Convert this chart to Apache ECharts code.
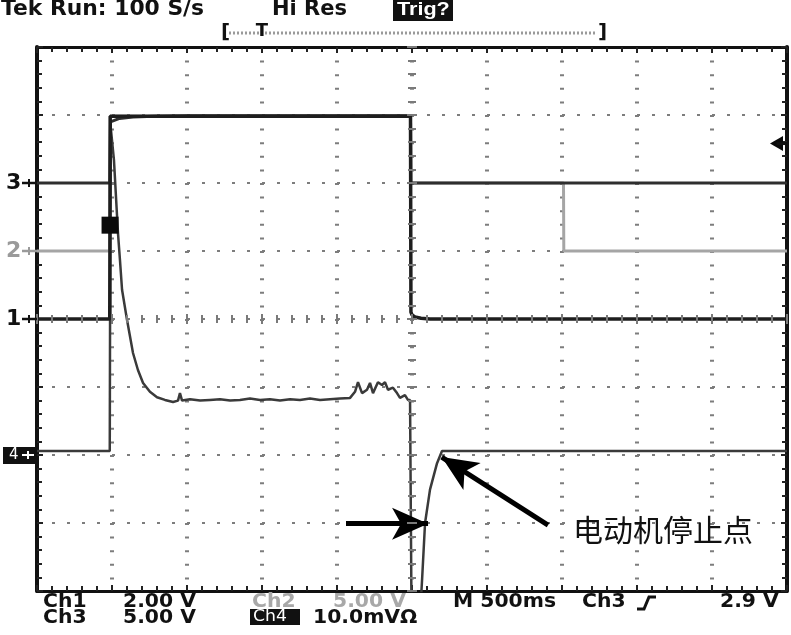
<!DOCTYPE html>
<html><head><meta charset="utf-8">
<script src="https://cdn.jsdelivr.net/npm/echarts@6/dist/echarts.min.js"></script>
<style>html,body{margin:0;padding:0;background:#fff}#c{width:791px;height:635px}</style>
</head><body><div id="c"></div>
<script>
// time in seconds (500 ms/div), vertical in screen divisions
const ch1 = [[0,0],[0.485,0],[0.488,2.98],[2.49,2.98],[2.493,0.1],[2.5,0.06],[2.52,0.03],[2.56,0.01],[2.62,0],[5,0]];
const ch2 = [[0,1],[0.485,1],[0.489,2.98],[2.49,2.98],[2.492,2],[3.51,2],[3.512,1],[5,1]];
const ch3 = [[0,2],[0.486,2],[0.49,2.9],[0.55,2.95],[0.64,2.97],[0.78,2.98],[1.0,2.99],[2.49,2.99],[2.492,2],[5,2]];
const ch4 = [[0,-1.94],[0.485,-1.94],[0.49,2.85],[0.513,2.34],[0.54,1.26],[0.553,0.87],[0.567,0.43],[0.6,-0.01],
  [0.64,-0.5],[0.673,-0.75],[0.707,-0.94],[0.753,-1.07],[0.8,-1.15],[0.853,-1.19],[0.907,-1.22],[0.94,-1.2],
  [0.953,-1.09],[0.967,-1.2],[1.02,-1.18],[1.087,-1.2],[1.153,-1.19],[1.22,-1.18],[1.287,-1.2],[1.353,-1.19],
  [1.42,-1.17],[1.487,-1.19],[1.553,-1.18],[1.62,-1.2],[1.687,-1.18],[1.753,-1.19],[1.82,-1.17],[1.887,-1.19],
  [1.953,-1.18],[2.02,-1.17],[2.087,-1.16],[2.12,-1.07],[2.14,-0.93],[2.167,-1.09],[2.2,-1.04],[2.22,-0.94],
  [2.24,-1.09],[2.273,-0.93],[2.3,-0.97],[2.32,-0.93],[2.34,-1.04],[2.373,-1.01],[2.4,-1.09],[2.42,-1.16],
  [2.453,-1.12],[2.473,-1.19],[2.487,-1.19],[2.497,-4.4],[2.553,-4.4],[2.567,-3.84],[2.587,-3.0],[2.62,-2.51],
  [2.667,-2.12],[2.7,-1.94],[5,-1.94]];
const cursorMark = [[0.487,1.38]];
const trigLevel = [[4.93,2.58]];
const channelLevels = [{name:'3',lvl:2,color:'#111'},{name:'2',lvl:1,color:'#9a9a9a'},{name:'1',lvl:0,color:'#111'}];
const ch4Level = -2;
const arrowFrom = [[2.06,-3.01],[3.407,-3.03]];
const arrowTo = [[2.607,-3.01],[2.698,-2.03]];
const annotation = '电动机停止点';

const chart = echarts.init(document.getElementById('c'), null, {renderer:'canvas'});
const tickC = '#222';
function xa(extra){return Object.assign({type:'value',min:0,max:5,interval:0.5,axisLabel:{show:false},splitLine:{show:false},
  axisLine:{show:true,onZero:false,lineStyle:{color:'#111',width:3}},
  axisTick:{show:true,inside:true,length:6,lineStyle:{color:tickC,width:2}},
  minorTick:{show:true,splitNumber:5,length:5,lineStyle:{color:tickC,width:2}}},extra);}
function ya(extra){return Object.assign({type:'value',min:-4,max:4,interval:1,axisLabel:{show:false},splitLine:{show:false},
  axisLine:{show:true,onZero:false,lineStyle:{color:'#111',width:4}},
  axisTick:{show:true,inside:true,length:6,lineStyle:{color:tickC,width:2}},
  minorTick:{show:true,splitNumber:5,length:5,lineStyle:{color:tickC,width:2}}},extra);}
const center = {z:10,axisLine:{show:false,onZero:false},axisTick:{show:true,inside:true,length:5,lineStyle:{color:'#7a7a7a',width:2}},
  minorTick:{show:true,splitNumber:5,length:4,lineStyle:{color:'#7a7a7a',width:2}}};

function line(data,color,width,z,extra){return Object.assign({type:'line',data:data,showSymbol:false,symbol:'none',
  lineStyle:{color:color,width:width},z:z,clip:true,animation:false},extra||{});}

chart.setOption({
  backgroundColor:'#fff',
  animation:false,
  grid:{left:37,top:47,width:750,height:544},
  xAxis:[
    xa({position:'bottom',splitLine:{show:true,lineStyle:{color:'#7d7d7d',width:4,type:[2,11.6]}}}),
    xa({position:'top'}),
    xa(Object.assign({position:'bottom',offset:-272},center)),
    xa(Object.assign({position:'top',offset:-272},center))
  ],
  yAxis:[
    ya({position:'left',splitLine:{show:true,lineStyle:{color:'#7d7d7d',width:2,type:[3,12]}}}),
    ya({position:'right'}),
    ya(Object.assign({position:'left',offset:-375},center)),
    ya(Object.assign({position:'right',offset:-375},center))
  ],
  series:[
    line(ch2,'#a5a5a5',3,2),
    line(ch4,'#3a3a3a',2.5,3,{markLine:{silent:true,animation:false,label:{show:false},
      lineStyle:{color:'#000',width:5,type:'solid',opacity:1},
      data:arrowFrom.map((f,i)=>[{coord:f,symbol:'none'},{coord:arrowTo[i],symbol:'arrow',symbolSize:[24,36]}])}}),
    line(ch3,'#2e2e2e',3,4),
    line(ch1,'#1e1e1e',3.5,5),
    {type:'scatter',data:cursorMark,symbol:'rect',symbolSize:17,itemStyle:{color:'#0a0a0a',opacity:1},z:6,animation:false},
    {type:'scatter',data:trigLevel,symbol:'triangle',symbolRotate:90,symbolSize:[15,13],itemStyle:{color:'#0a0a0a',opacity:1},z:6,animation:false}
  ]
});

const G = [];
const F = '"DejaVu Sans"';
function t(x,y,s,o){o=o||{};G.push({type:'text',x:x,y:y,scaleX:o.sx||1,z:100,style:{text:s,fontSize:o.fs||19,fontWeight:o.fw||'bold',
  fontFamily:o.ff||F,fill:o.fill||'#111',align:o.align||'left',verticalAlign:'middle'}});}
function r(x,y,w,h,fill){G.push({type:'rect',z:99,shape:{x:x,y:y,width:w,height:h},style:{fill:fill||'#111'}});}
function l(x1,y1,x2,y2,c,w,dash){G.push({type:'line',z:99,shape:{x1:x1,y1:y1,x2:x2,y2:y2},style:{stroke:c,lineWidth:w,lineDash:dash||null}});}

// header
t(1,10,'Tek Run: 100 S/s',{fs:21,sx:1.04});
t(272,10,'Hi Res',{fs:21,sx:1.0});
r(393,0,60,21,'#111');
t(397,10,'Trig?',{fs:18,fill:'#fff',ff:'"Liberation Sans"',sx:1.2});
// trigger position bar
l(229,33,597,33,'#9a9a9a',3,[2,2]);
t(221,33,'[',{fs:20});
t(598,33,']',{fs:20});
t(262,31,'T',{fs:18,align:'center'});

// footer
const sx = 1.07;
t(43,602,'Ch1',{sx:sx}); t(123,602,'2.00 V',{sx:sx});
t(252,602,'Ch2',{sx:sx,fill:'#a8a8a8'}); t(333,602,'5.00 V',{sx:sx,fill:'#a8a8a8'});
t(453,602,'M 500ms',{sx:sx}); t(582,602,'Ch3',{sx:sx});
G.push({type:'polyline',z:99,shape:{points:[[637,609],[644,609],[649,597],[656,597]]},style:{stroke:'#111',lineWidth:3,fill:null}});
t(720,602,'2.9 V',{sx:sx});
t(43,618,'Ch3',{sx:sx}); t(123,618,'5.00 V',{sx:sx});
r(250,609,50,16,'#111'); t(253,617,'Ch4',{fs:15,fw:'normal',fill:'#fff',sx:1.15});
t(313,618,'10.0mVΩ',{sx:sx});

// channel ground markers
channelLevels.forEach(c=>{
  const p = chart.convertToPixel({xAxisIndex:0,yAxisIndex:0},[0,c.lvl]);
  t(6,p[1],c.name,{fs:22,fill:c.color});
  l(22,p[1],37,p[1],c.color,2.5);
  l(29,p[1]-4,29,p[1]+4,c.color,2);
});
const p4 = chart.convertToPixel({xAxisIndex:0,yAxisIndex:0},[0,ch4Level]);
r(3,p4[1]-8,33,17,'#111');
t(9,p4[1],'4',{fs:15,fw:'normal',fill:'#fff'});
l(22,p4[1],34,p4[1],'#fff',2);
l(28,p4[1]-4,28,p4[1]+4,'#fff',2);
// stem of trigger-level arrow
const pt = chart.convertToPixel({xAxisIndex:0,yAxisIndex:0},trigLevel[0]);
l(pt[0],pt[1],787,pt[1],'#111',3);

// annotation text
t(573,530,annotation,{fs:30,fw:'normal',ff:'"Noto Sans CJK SC"'});

chart.setOption({graphic:G});
</script></body></html>
